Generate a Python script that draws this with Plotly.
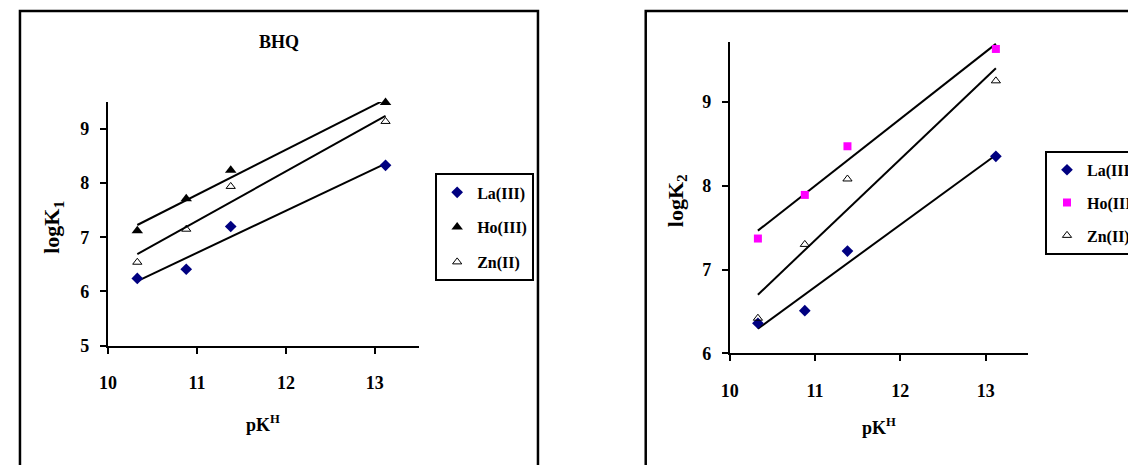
import numpy as np
import plotly.graph_objects as go

W, H = 1136, 467
OFF = 8  # default page margin of the html body

# ---- data ----
pKH = [10.33, 10.88, 11.38, 13.12]
series_names = ["La(III)", "Ho(III)", "Zn(II)"]

logK1_La = [6.24, 6.41, 7.20, 8.33]
logK1_Ho = [7.12, 7.71, 8.24, 9.49]
logK1_Zn = [6.54, 7.15, 7.94, 9.14]

logK2_La = [6.36, 6.51, 7.22, 8.35]
logK2_Ho = [7.37, 7.89, 8.47, 9.63]
logK2_Zn = [6.42, 7.30, 8.08, 9.25]

x_ticks = [10, 11, 12, 13]
y1_ticks = [5, 6, 7, 8, 9]
y2_ticks = [6, 7, 8, 9]

FONT = "Liberation Serif"


def px(x):
    return (x - OFF) / W


def py(y):
    return 1 - (y - OFF) / H


fig = go.Figure()

styles_left = [
    dict(symbol="diamond", color="#000080", size=9, line=dict(width=0)),
    dict(symbol="triangle-up", color="black", size=10, line=dict(width=0)),
    dict(symbol="triangle-up-open", color="black", size=8, line=dict(width=1)),
]
styles_right = [
    dict(symbol="diamond", color="#000080", size=9, line=dict(width=0)),
    dict(symbol="square", color="#FF00FF", size=8, line=dict(width=0)),
    dict(symbol="triangle-up-open", color="black", size=8, line=dict(width=1)),
]


def add_panel(ys, styles, xa, ya, legend):
    for name, y in zip(series_names, ys):
        # trend line from linear fit
        a, b = np.polyfit(pKH, y, 1)
        xl = [min(pKH), max(pKH)]
        fig.add_trace(go.Scatter(
            x=xl, y=[a * v + b for v in xl], mode="lines",
            line=dict(color="black", width=2), showlegend=False,
            xaxis=xa, yaxis=ya, hoverinfo="skip", cliponaxis=False))
    for i, (name, y, st) in enumerate(zip(series_names, ys, styles)):
        fig.add_trace(go.Scatter(
            x=pKH, y=y, mode="markers", name=name, marker=st,
            xaxis=xa, yaxis=ya, legend=legend, cliponaxis=False,
            legendgroup=legend + str(i)))


add_panel([logK1_La, logK1_Ho, logK1_Zn], styles_left, "x", "y", "legend")
add_panel([logK2_La, logK2_Ho, logK2_Zn], styles_right, "x2", "y2", "legend2")

axis_common = dict(
    showgrid=False, zeroline=False, showline=True, linecolor="black",
    linewidth=2, ticks="outside", tickwidth=2, tickcolor="black", ticklen=6,
    tickfont=dict(family=FONT, size=18, color="black", weight="bold"),
    mirror=False,
)

leg_font = dict(family=FONT, size=16, color="black", weight="bold")

fig.update_layout(
    width=W, height=H,
    margin=dict(l=0, r=0, t=0, b=0),
    paper_bgcolor="white", plot_bgcolor="white",
    showlegend=True,
    xaxis=dict(axis_common, domain=[px(100), px(415)], range=[10, 13.5],
               tickvals=x_ticks, anchor="y", ticklabelstandoff=14),
    yaxis=dict(axis_common, domain=[py(353), py(104)], range=[5, 9.5],
               tickvals=y1_ticks, anchor="x", ticklabelstandoff=7),
    xaxis2=dict(axis_common, domain=[px(729), px(1031)], range=[10, 13.5],
                tickvals=x_ticks, anchor="y2", ticklabelstandoff=14),
    yaxis2=dict(axis_common, domain=[py(361), py(43)], range=[6, 9.71],
                tickvals=y2_ticks, anchor="x2", ticklabelstandoff=7),
    legend=dict(x=px(431), y=py(177), xanchor="left", yanchor="top",
                bordercolor="black", borderwidth=2, bgcolor="white",
                font=leg_font, tracegroupgap=11, itemwidth=30),
    legend2=dict(x=px(1048), y=py(154), xanchor="left", yanchor="top",
                 bordercolor="black", borderwidth=2, bgcolor="white",
                 font=leg_font, tracegroupgap=9, itemwidth=30),
)

# outer chart frames (open at the bottom, cut by the picture edge)
fig.add_shape(type="path", xref="paper", yref="paper",
              path=f"M {px(11)},0 L {px(11)},{py(11)} L {px(535)},{py(11)} "
                   f"L {px(535)},0",
              line=dict(color="black", width=2.5))
fig.add_shape(type="path", xref="paper", yref="paper",
              path=f"M {px(644)},0 L {px(644)},{py(11)} L 1,{py(11)}",
              line=dict(color="black", width=2.5))

ann_font = dict(family=FONT, size=18, color="black", weight="bold")
annotations = [
    dict(text="BHQ", x=px(273), y=py(43), font=dict(ann_font, size=18)),
    dict(text="logK<sub>1</sub>", x=px(45), y=py(232), textangle=-90,
         font=dict(ann_font, size=22)),
    dict(text="logK<sub>2</sub>", x=px(675), y=py(205), textangle=-90,
         font=dict(ann_font, size=22)),
    dict(text="pK<sup>H</sup>", x=px(257), y=py(433), font=ann_font),
    dict(text="pK<sup>H</sup>", x=px(880), y=py(436), font=ann_font),
]
for a in annotations:
    fig.add_annotation(xref="paper", yref="paper", showarrow=False,
                       xanchor="center", yanchor="middle", **a)

fig.write_html("out.html", config={"displayModeBar": False})
